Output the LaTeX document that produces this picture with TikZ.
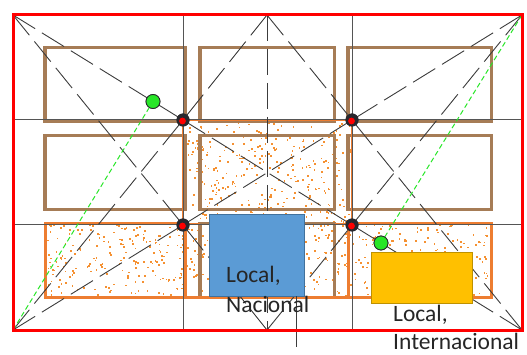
\documentclass[tikz,border=0pt]{standalone}
\usepackage{fontspec}
\setmainfont{Carlito}
\definecolor{brownc}{RGB}{166,124,86}
\definecolor{orangec}{RGB}{237,125,49}
\definecolor{dotc}{RGB}{245,145,50}
\definecolor{gridc}{RGB}{85,85,85}
\definecolor{dashc}{RGB}{60,60,60}
\definecolor{greenc}{RGB}{40,230,40}
\definecolor{bluec}{RGB}{91,155,213}
\definecolor{blueb}{RGB}{65,113,156}
\definecolor{yelc}{RGB}{255,192,0}
\definecolor{yelb}{RGB}{190,145,0}
\definecolor{framec}{RGB}{255,0,0}
\definecolor{darkc}{RGB}{40,40,45}
\tikzset{
  brownbox/.style={draw=brownc,line width=3.5pt},
  orangebox/.style={draw=orangec,line width=3pt},
  gridline/.style={draw=gridc,line width=1pt},
  dashline/.style={draw=dashc,line width=0.9pt,dash pattern=on 26pt off 8pt},
  greenline/.style={draw=greenc,line width=1pt,dash pattern=on 5pt off 3pt},
  reddot/.style={circle,fill=darkc,minimum size=13pt,inner sep=0pt},
  greendot/.style={circle,fill=greenc,draw=darkc,line width=0.8pt,minimum size=14pt,inner sep=0pt},
  lbl/.style={anchor=base west,inner sep=0pt,text=black!85,font=\fontsize{23.5}{29}\selectfont}
}
\begin{document}
\begin{tikzpicture}[x=1pt,y=-1pt]
\useasboundingbox (0,0) rectangle (527,355);
% named points
\coordinate (TL) at (13,15);
\coordinate (TR) at (522,15);
\coordinate (BL) at (13,330);
\coordinate (BR) at (522,330);
\coordinate (TM) at (267,15);
\coordinate (BM) at (267,330);
\coordinate (LA) at (13,120);
\coordinate (RA) at (522,120);
\coordinate (LB) at (13,225);
\coordinate (RB) at (522,225);
\coordinate (TA) at (183,15);
\coordinate (TB) at (352,15);
\coordinate (BA) at (183,330);
\coordinate (BB) at (352,330);
% stipple
\pgfmathsetseed{11}
\foreach \i in {1,...,620}{
  \pgfmathsetmacro\xx{45+445*rnd}
  \pgfmathsetmacro\yy{224+72*rnd}
  \fill[dotc] (\xx,\yy) rectangle ++(1.7,1.7);
}
\foreach \i in {1,...,320}{
  \pgfmathsetmacro\xx{184+166*rnd}
  \pgfmathsetmacro\yy{121+101*rnd}
  \fill[dotc] (\xx,\yy) rectangle ++(1.7,1.7);
}
% brown rectangles
\draw[brownbox] (45,47.5) rectangle (185,121.5);
\draw[brownbox] (200,47.5) rectangle (334.5,121.5);
\draw[brownbox] (348,47.5) rectangle (491.5,121.5);
\draw[brownbox] (45,135.5) rectangle (185,209.5);
\draw[brownbox] (200,135.5) rectangle (334.5,209.5);
\draw[brownbox] (348,135.5) rectangle (491.5,209.5);
\draw[brownbox] (200,223.5) rectangle (334.5,297.5);
% orange outlines
\draw[orangebox] (45,223.5) rectangle (185,297.5);
\draw[orangebox] (348,223.5) rectangle (491.5,297.5);
\draw[orangebox] (185,297.5) -- (348,297.5);
\draw[draw=orangec,line width=1.3pt] (183,225) -- (183,120) -- (352,120) -- (352,225);
\draw[draw=orangec,line width=1.3pt] (185,223.5) -- (200,223.5);
\draw[draw=orangec,line width=1.3pt] (334.5,223.5) -- (348,223.5);
% grid lines
\draw[gridline] (TA) -- (BA);
\draw[gridline] (TB) -- (BB);
\draw[gridline] (LA) -- (RA);
\draw[gridline] (LB) -- (RB);
% dot nodes
\path (183,120) node[reddot] (A) {};
\path (352,120) node[reddot] (B) {};
\path (183,225) node[reddot] (C) {};
\path (352,225) node[reddot] (D) {};
% dashed lines
\draw[dashline] (TL) -- (A.center);
\draw[dashline] (TL) -- (C.center);
\draw[dashline] (BL) -- (C.center);
\draw[dashline] (BL) -- (A.center);
\draw[dashline] (TR) -- (B.center);
\draw[dashline] (TR) -- (D.center);
\draw[dashline] (BR) -- (D.center);
\draw[dashline] (BR) -- (B.center);
\draw[dashline] (TM) -- (A.center);
\draw[dashline] (TM) -- (B.center);
\draw[dashline] (BM) -- (C.center);
\draw[dashline] (BM) -- (D.center);
\draw[dashline] (A.center) -- (D.center);
\draw[dashline] (B.center) -- (C.center);
\draw[dashline] (TM) -- (BM);
% green dots and lines
\path (153,101.5) node[greendot] (G1) {};
\path (381,243) node[greendot] (G2) {};
\draw[greenline] (BL) -- (G1);
\draw[greenline] (TR) -- (G2);
% redraw dots on top
\foreach \n in {A,B,C,D}{
  \fill[darkc] (\n.center) circle (6.5);
  \fill[red] ([shift={(-0.5,1)}]\n.center) circle (3.4);
}
\path (153,101.5) node[greendot] {};
\path (381,243) node[greendot] {};
% boxes
\node[draw=blueb,fill=bluec,line width=0.8pt,minimum width=95pt,minimum height=82pt,inner sep=0pt] (nac) at (256.5,255) {};
\node[draw=yelb,fill=yelc,line width=0.8pt,minimum width=101pt,minimum height=51pt,inner sep=0pt] (int) at (421.5,277.5) {};
\coordinate (ntop) at (296,296);
\coordinate (nbot) at (296,347);
\draw[draw=dashc,line width=0.9pt] (ntop) -- (nbot);
% frame
\draw[draw=framec,line width=3pt] (TL) rectangle (BR);
% labels
\node[lbl] (l1) at (226,282) {Local,};
\node[lbl] (l2) at (226,312) {Nacional};
\node[lbl] (l3) at (393,321) {Local,};
\node[lbl] (l4) at (393,349) {Internacional};
\end{tikzpicture}
\end{document}
